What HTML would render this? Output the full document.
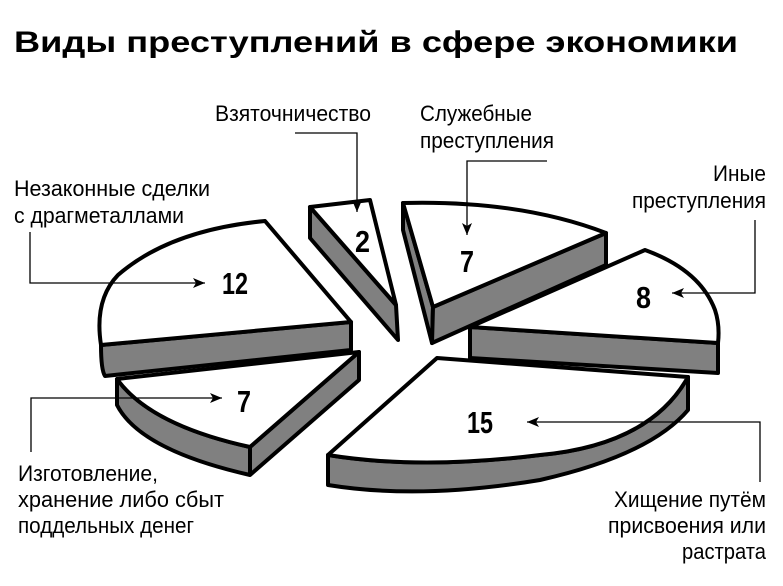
<!DOCTYPE html>
<html><head><meta charset="utf-8"><style>
html,body{margin:0;padding:0;background:#fff;}
svg{display:block;}
.t{font-family:"Liberation Sans",sans-serif;font-size:22px;fill:#000;}
.n{font-family:"Liberation Sans",sans-serif;font-size:31px;font-weight:bold;fill:#000;}
</style></head><body>
<svg width="783" height="586" viewBox="0 0 783 586" xmlns="http://www.w3.org/2000/svg">
<defs><marker id="a" viewBox="0 0 12 10" refX="12" refY="5" markerWidth="14" markerHeight="10" markerUnits="userSpaceOnUse" orient="auto"><path d="M0,0 L12,5 L0,10 L3,5 Z" fill="#000"/></marker></defs>
<text x="14" y="52" font-family="Liberation Sans,sans-serif" font-size="30" font-weight="bold" textLength="724" lengthAdjust="spacingAndGlyphs">Виды преступлений в сфере экономики</text>
<g stroke="#000" stroke-width="4" stroke-linejoin="round">
<path d="M101,345 L351,322 L351,350 L105,376 Q101,370 101,345 Z" fill="#808080"/>
<path d="M265,221 L351,322 L101,345 Q94,300 118,275 Q170,230 265,221 Z" fill="#fff"/>
<path d="M117,379 L117,405 Q140,450 250,475 L359,380 L359,352 L250,447 Q150,425 117,379 Z" fill="#808080"/>
<path d="M250,447 L250,475" fill="none"/>
<path d="M117,379 L359,352 L250,447 Q150,425 117,379 Z" fill="#fff"/>
<path d="M310,207 L396,305 L398,340 L310,238 Z" fill="#808080"/>
<path d="M310,207 L370,200 L396,305 Z" fill="#fff"/>
<path d="M403,203 L433,307 L432,343 L403,230 Z" fill="#808080"/>
<path d="M433,307 L606,233 L606,265 L432,343 Z" fill="#808080"/>
<path d="M403,203 Q520,200 606,233 L433,307 Z" fill="#fff"/>
<path d="M470,327 L718,343 L718,373 L470,358 Z" fill="#808080"/>
<path d="M470,327 L645,250 Q700,270 715,310 Q720,325 718,343 Z" fill="#fff"/>
<path d="M328,455 L328,485 Q420,500 540,480 Q650,455 688,410 L688,377 Q650,445 540,455 Q420,470 328,455 Z" fill="#808080"/>
<path d="M437,358 L688,377 Q650,445 540,455 Q420,470 328,455 Z" fill="#fff"/>
</g>
<g class="n">
<text x="222" y="294" class="n" textLength="26" lengthAdjust="spacingAndGlyphs">12</text>
<text x="237" y="412" class="n" textLength="14" lengthAdjust="spacingAndGlyphs">7</text>
<text x="355" y="252" class="n" textLength="15" lengthAdjust="spacingAndGlyphs">2</text>
<text x="460" y="272" class="n" textLength="14" lengthAdjust="spacingAndGlyphs">7</text>
<text x="636" y="308" class="n" textLength="15" lengthAdjust="spacingAndGlyphs">8</text>
<text x="467" y="433" class="n" textLength="26" lengthAdjust="spacingAndGlyphs">15</text>
</g>
<g stroke="#000" stroke-width="1.3" fill="none">
<path d="M295,133 L357,133 L357,212" marker-end="url(#a)"/>
<path d="M547,161 L467,161 L467,235" marker-end="url(#a)"/>
<path d="M755,220 L755,293 L672,293" marker-end="url(#a)"/>
<path d="M30,232 L30,283 L205,283" marker-end="url(#a)"/>
<path d="M31,452 L31,398 L222,398" marker-end="url(#a)"/>
<path d="M760,482 L760,422 L527,422" marker-end="url(#a)"/>
</g>
<g class="t">
<text x="215" y="121" textLength="156" lengthAdjust="spacingAndGlyphs">Взяточничество</text>
<text x="420" y="121" textLength="112" lengthAdjust="spacingAndGlyphs">Служебные</text>
<text x="420" y="148" textLength="134" lengthAdjust="spacingAndGlyphs">преступления</text>
<text x="713" y="181" textLength="53" lengthAdjust="spacingAndGlyphs">Иные</text>
<text x="632" y="208" textLength="134" lengthAdjust="spacingAndGlyphs">преступления</text>
<text x="14" y="196" textLength="196" lengthAdjust="spacingAndGlyphs">Незаконные сделки</text>
<text x="14" y="223" textLength="170" lengthAdjust="spacingAndGlyphs">с драгметаллами</text>
<text x="18" y="481" textLength="140" lengthAdjust="spacingAndGlyphs">Изготовление,</text>
<text x="18" y="507" textLength="206" lengthAdjust="spacingAndGlyphs">хранение либо  сбыт</text>
<text x="18" y="533" textLength="176" lengthAdjust="spacingAndGlyphs">поддельных денег</text>
<text x="614" y="507" textLength="152" lengthAdjust="spacingAndGlyphs">Хищение путём</text>
<text x="608" y="533" textLength="158" lengthAdjust="spacingAndGlyphs">присвоения или</text>
<text x="682" y="559" textLength="84" lengthAdjust="spacingAndGlyphs">растрата</text>
</g>
</svg>
</body></html>
